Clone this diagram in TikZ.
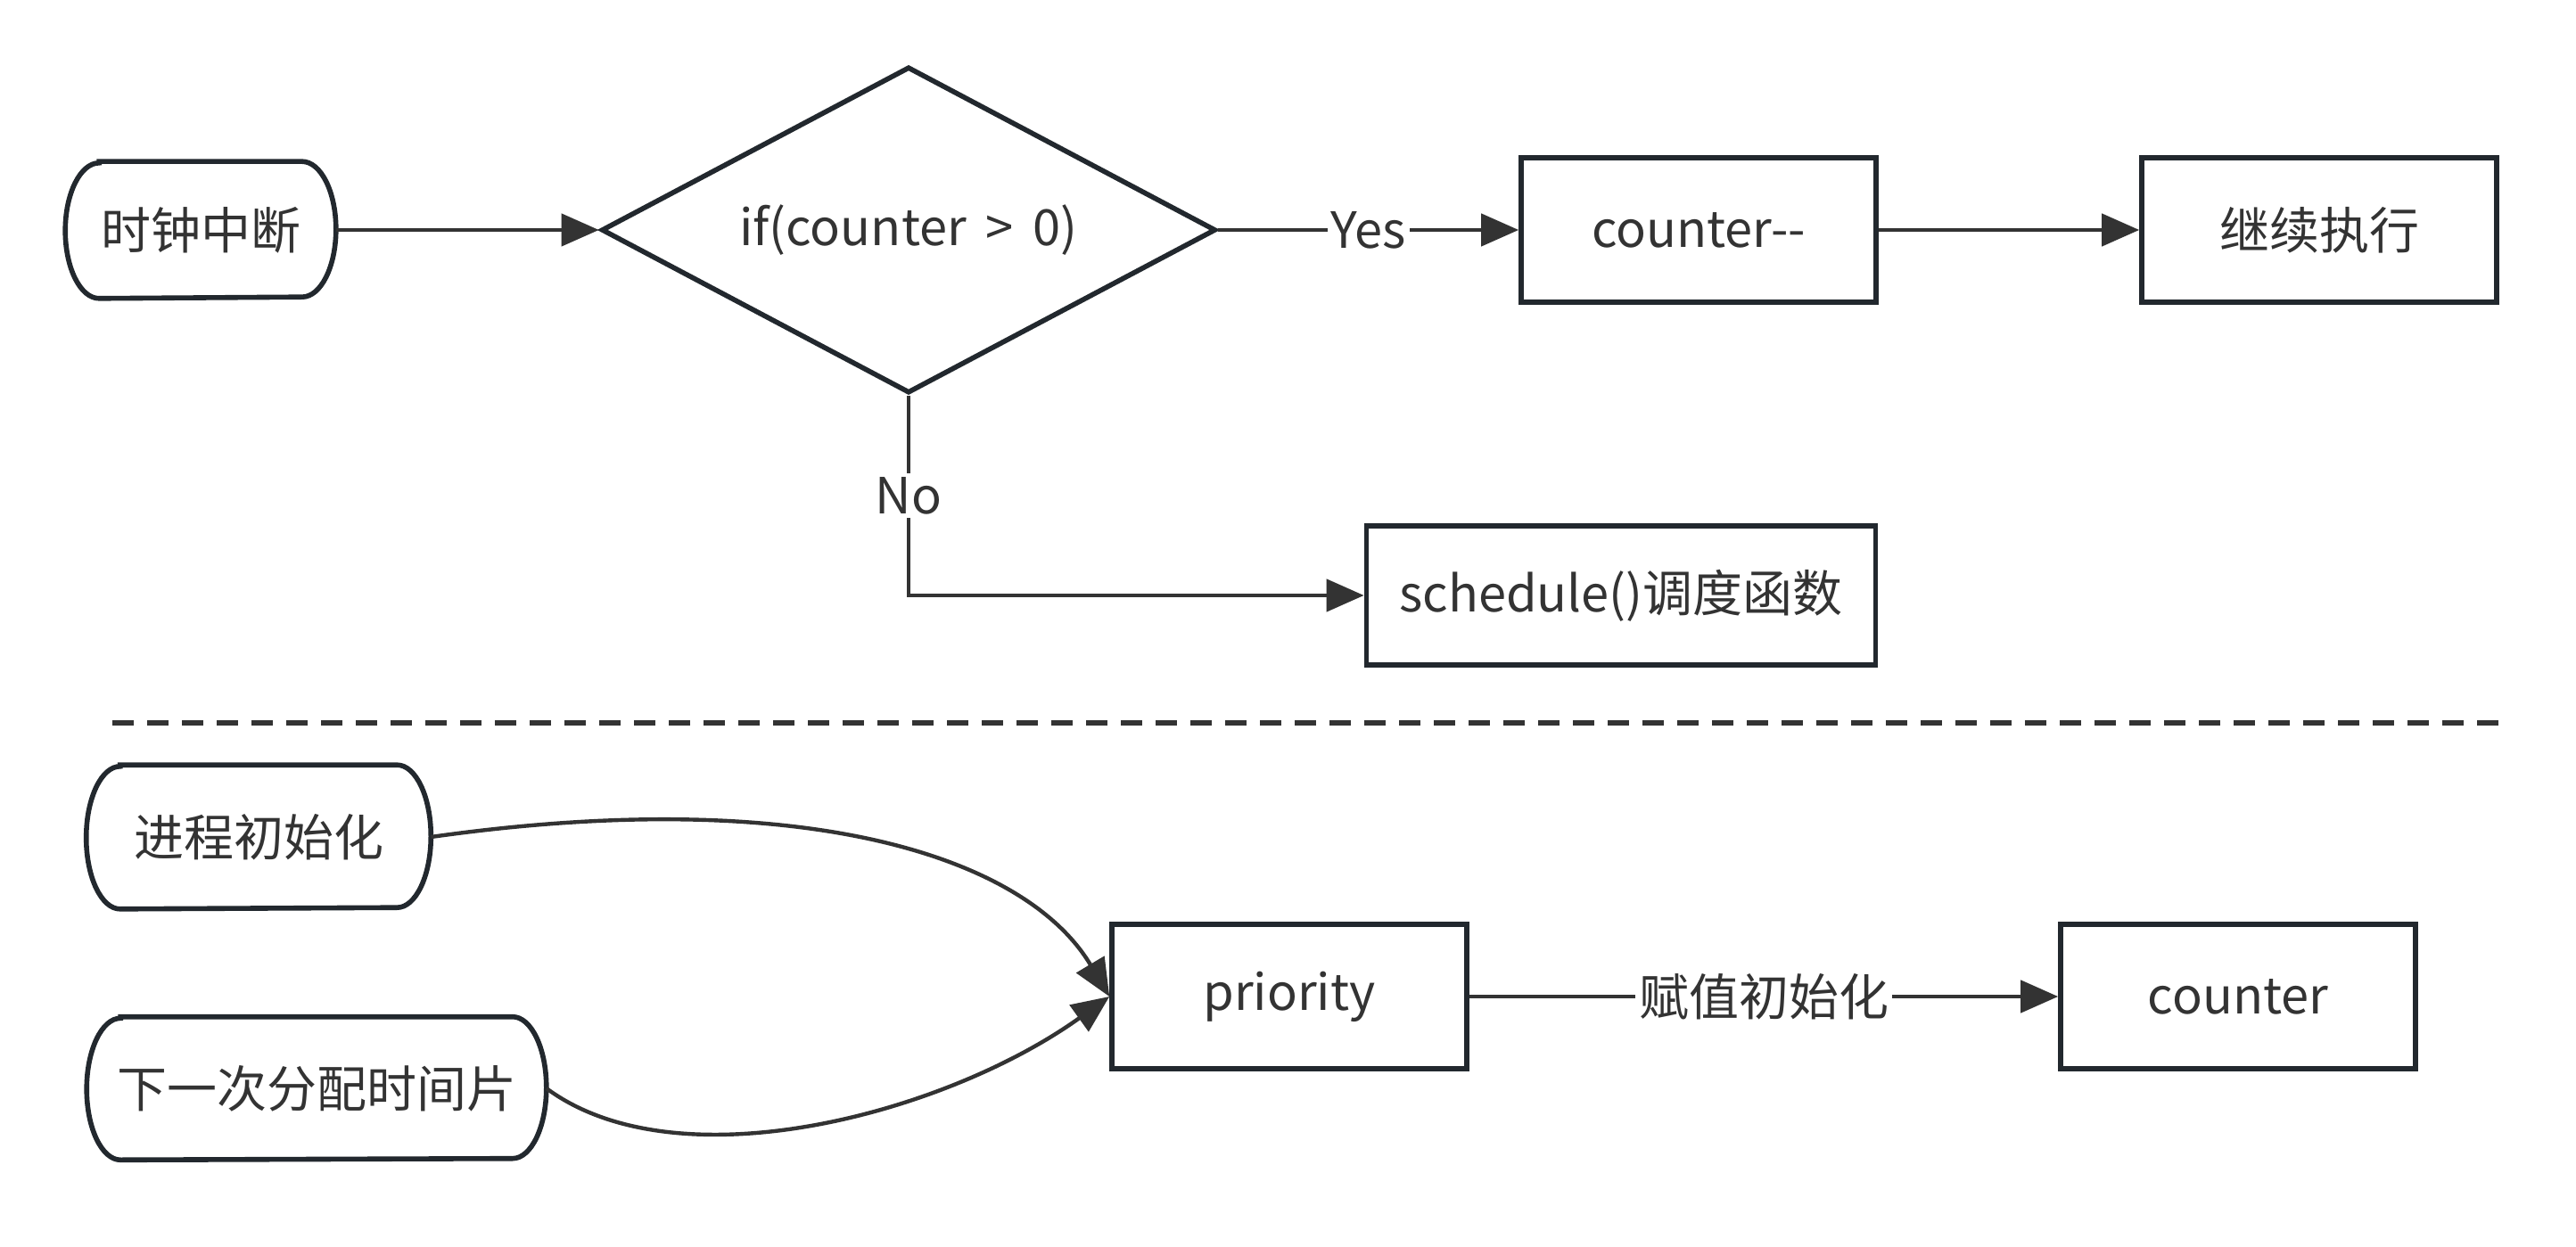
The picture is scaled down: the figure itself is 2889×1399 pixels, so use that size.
\documentclass[tikz,border=0pt]{standalone}
\usepackage{fontspec}
\setmainfont{Noto Sans CJK SC}
\usetikzlibrary{shapes.geometric,arrows.meta}
\definecolor{bord}{HTML}{22282E}
\definecolor{ink}{HTML}{333333}
\begin{document}
\begin{tikzpicture}[x=0.25pt,y=-0.25pt,
  every node/.style={font=\fontsize{14pt}{16pt}\selectfont, text=ink},
  box/.style={draw=bord, line width=1.4pt, rectangle, inner sep=0pt, minimum width=99.5pt, minimum height=40.5pt, fill=white},
  term/.style={rectangle, inner sep=0pt},
  termline/.style={draw=bord, line width=1.4pt},
  decide/.style={draw=bord, line width=1.4pt, diamond, aspect=1.88, inner sep=0pt, minimum width=172.25pt, minimum height=91.5pt},
  conn/.style={draw=ink, line width=1.1pt, -{Triangle[length=10.5pt,width=9pt]}},
  lbl/.style={fill=white, inner sep=1pt}
]
\useasboundingbox[fill=white] (0,0) rectangle (2889,1399);

% terminal (stadium-like) nodes
\node[term, minimum width=75.5pt, minimum height=38pt] (t1) at (225,258) {时钟中断};
\node[term, minimum width=96.25pt, minimum height=40pt] (p1) at (290,939) {进程初始化};
\node[term, minimum width=128.5pt, minimum height=39.75pt] (p2) at (355,1221) {下一次分配时间片};

\foreach \n/\h in {t1/19pt, p1/20pt, p2/19.875pt}{
  \draw[termline] ([xshift=9.5pt]\n.north west) -- ([xshift=-9.5pt]\n.north east)
    arc[start angle=90, end angle=-90, x radius=9.5pt, y radius=\h]
    -- ([xshift=9.5pt]\n.south west)
    arc[start angle=270, end angle=90, x radius=9.5pt, y radius=\h] -- cycle;
}

\node[decide] (d) at (1019,258) {if(counter \,>\, 0)};
\node[box] (c1) at (1905,258) {counter-{}-};
\node[box] (c2) at (2601,258) {继续执行};
\node[box, minimum width=142.75pt, minimum height=39pt] (s) at (1818,668) {schedule()调度函数};

\node[box] (pr) at (1446,1118) {priority};
\node[box] (ct) at (2510,1118) {counter};

% connectors
\draw[conn] (t1.east) -- (d.west);
\draw[conn] (d.east) -- node[lbl] {Yes} (c1.west);
\draw[conn] (c1.east) -- (c2.west);
\draw[conn] (d.south) |- node[lbl, pos=0.25] {No} (s.west);

\draw[conn] (p1.east) .. controls (900,880) and (1150,960) .. (pr.west);
\draw[conn] (p2.east) .. controls (760,1330) and (1060,1250) .. (pr.west);

\draw[conn] (pr.east) -- node[lbl] {赋值初始化} (ct.west);

% separator
\coordinate (sepL) at (126,811);
\coordinate (sepR) at (2804,811);
\draw[draw=ink, line width=1.5pt, dash pattern=on 6pt off 3.75pt] (sepL) -- (sepR);
\end{tikzpicture}
\end{document}
